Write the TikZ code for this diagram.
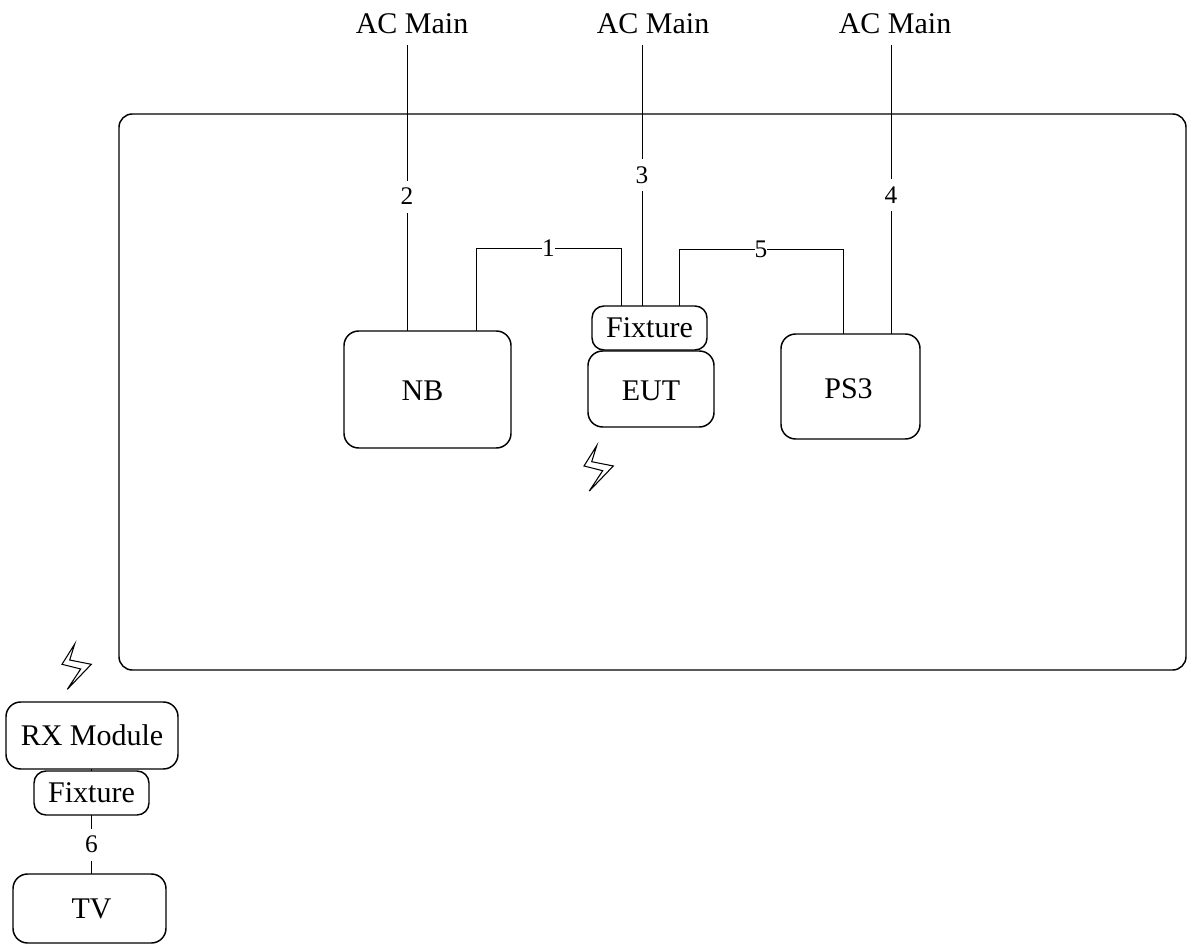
\documentclass[tikz,border=0pt]{standalone}
\usepackage{fontspec}
\setmainfont{Liberation Serif}
\usetikzlibrary{positioning,calc}
\newcommand{\boltshape}[2]{%
  \draw[bolt, shift={(#1,#2)}] (12.7,0) -- (0,20.3) -- (18.7,25) -- (5.3,45.3) -- (29.3,20.3) -- (7.7,16) -- cycle;}
\newcommand{\lowered}[2]{\raisebox{-#1}[\height][0pt]{#2}}

\begin{document}
\begin{tikzpicture}[
    x=0.75pt, y=-0.75pt,
    font=\fontsize{22.5}{26}\selectfont,
    box/.style={draw=black, rounded corners=11pt, line width=1.1pt, inner sep=0pt, outer sep=0pt, align=center},
    smallbox/.style={box, rounded corners=9pt},
    wire/.style={draw=black, line width=0.7pt},
    num/.style={fill=white, inner sep=0pt, minimum height=24pt, font=\fontsize{19}{22}\selectfont},
    main/.style={inner sep=0pt},
    bolt/.style={draw=black, line width=0.8pt}
]
\useasboundingbox (0,0) rectangle (1192,944);

\node[box, rounded corners=10pt, minimum width=800.25pt, minimum height=417pt] (room) at (652.5,392) {};

% units inside the room
\node[box, minimum width=125.25pt, minimum height=87.75pt] (nb) at (427.5,389.5) {\lowered{0.7pt}{NB}\hspace*{7.5pt}};
\node[box, minimum width=94.5pt, minimum height=57pt] (eut) at (651,389) {\lowered{1.5pt}{EUT}};
\node[smallbox, minimum width=86.25pt, minimum height=33pt] (fix) at (649.5,328) {Fixture};
\node[box, minimum width=104.25pt, minimum height=78.75pt] (ps) at (850.5,386.5) {\lowered{1.5pt}{PS3}\hspace*{3pt}};

% units on the left
\node[box, minimum width=129pt, minimum height=50.25pt] (rx) at (92,735.5) {RX Module};
\node[smallbox, minimum width=86.25pt, minimum height=33pt] (fixb) at (91.5,793) {Fixture};
\node[box, minimum width=114.75pt, minimum height=51.75pt] (tv) at (89.5,908.5) {\hspace*{3pt}TV};

% mains
\node[main] (aca) at (412,24) {AC Main};
\node[main] (acb) at (653,24) {AC Main};
\node[main] (acc) at (895,24) {AC Main};
\coordinate (topa) at (407,45);
\coordinate (topb) at (642,45);
\coordinate (topc) at (891,45);
\draw[wire] (topa) -- node[num, pos=0.53] {2} (topa |- nb.north);
\draw[wire] (topb) -- node[num, pos=0.50] {3} (topb |- fix.north);
\draw[wire] (topc) -- node[num, pos=0.52] {4} (topc |- ps.north);

% cables
\coordinate (onea) at (476,248);
\coordinate (oneb) at (621,248);
\coordinate (fivea) at (679,249);
\coordinate (fiveb) at (843,249);
\draw[wire] (onea |- nb.north) -- (onea) -- node[num] {1} (oneb) -- (oneb |- fix.north);
\draw[wire] (fivea |- fix.north) -- (fivea) -- node[num] {5} (fiveb) -- (fiveb |- ps.north);
\draw[wire] (fixb.north) -- (rx.south -| fixb.north);
\draw[wire] (fixb.south) -- node[num] {6} (tv.north -| fixb.south);

\boltshape{584}{445.7}
\boltshape{62}{644}

\end{tikzpicture}
\end{document}
